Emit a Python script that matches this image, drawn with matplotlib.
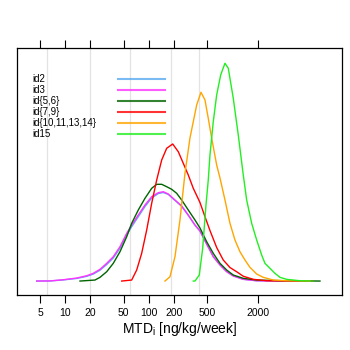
import numpy as np
import matplotlib
matplotlib.use('Agg')
import matplotlib.pyplot as plt

plt.rcParams['font.family'] = ['Liberation Sans', 'DejaVu Sans']
plt.rcParams['mathtext.fontset'] = 'custom'
plt.rcParams['mathtext.rm'] = 'Liberation Sans'

# density curves of MTD (x in ng/kg/week, y = density of log10 values)
x_id2 = [4.57, 6.58, 9.5, 13.73, 18.08, 21.68, 26.07, 31.35, 37.59, 45.2, 54.37,
         62.39, 74.8, 89.95, 108.2, 129.8, 148.9, 170.8, 205.4, 247.0, 296.2,
         356.3, 408.8, 491.5, 589.4, 709, 852.5, 1022, 1346, 1947, 3696, 9244]
y_id2 = [0.0, 0.001, 0.011, 0.026, 0.047, 0.07, 0.108, 0.165, 0.23, 0.328, 0.46,
         0.543, 0.643, 0.745, 0.83, 0.875, 0.885, 0.866, 0.806, 0.747, 0.657,
         0.558, 0.5, 0.37, 0.245, 0.162, 0.095, 0.052, 0.018, 0.003, 0.0, 0.0]
x_id3 = [4.57, 6.58, 9.5, 13.73, 18.08, 21.68, 26.07, 31.35, 37.59, 45.2, 54.37,
         62.39, 74.8, 89.95, 108.2, 129.8, 148.9, 170.8, 205.4, 247.0, 296.2,
         356.3, 408.8, 491.5, 589.4, 709, 852.5, 1022, 1346, 1947, 3696, 9244]
y_id3 = [0.0, 0.001, 0.013, 0.03, 0.053, 0.077, 0.117, 0.177, 0.243, 0.343, 0.477,
         0.56, 0.66, 0.76, 0.843, 0.883, 0.893, 0.87, 0.81, 0.75, 0.66,
         0.56, 0.5, 0.37, 0.243, 0.16, 0.093, 0.05, 0.017, 0.003, 0.0, 0.0]
x_id56 = [15.04, 22.72, 26.07, 31.35, 37.59, 45.2, 54.37, 62.39, 74.8, 89.95,
          108.2, 124.2, 142.5, 163.5, 187.6, 215.2, 247.0, 296.2, 356.3, 408.8,
          491.5, 589.4, 709, 852.5, 1022, 1346, 1947, 4048, 11113]
y_id56 = [0.0, 0.01, 0.037, 0.093, 0.177, 0.293, 0.443, 0.577, 0.71, 0.827,
          0.927, 0.967, 0.967, 0.943, 0.917, 0.877, 0.81, 0.71, 0.61, 0.53,
          0.393, 0.277, 0.177, 0.11, 0.06, 0.027, 0.01, 0.003, 0.0]
x_id79 = [47.4, 62.39, 71.6, 82.15, 94.3, 108.2, 124.2, 142.5, 163.5, 192.9,
          225.0, 258.1, 296.2, 340, 408.8, 469.1, 538.2, 647.3, 776.3, 933.4,
          1122, 1346, 1772, 2563, 9244]
y_id79 = [0.0, 0.01, 0.11, 0.277, 0.51, 0.777, 1.01, 1.21, 1.327, 1.37,
          1.293, 1.177, 1.06, 0.927, 0.785, 0.643, 0.505, 0.335, 0.21, 0.135,
          0.093, 0.048, 0.017, 0.003, 0.0]
x_id1014 = [156.0, 179.0, 205.4, 235.7, 270.5, 310.4, 340, 373.3, 420.2, 469.1,
            513.6, 564.0, 647.3, 709, 813.5, 933.4, 1071, 1229, 1411, 1618,
            1947, 2334, 3074, 4444, 8439]
y_id1014 = [0.0, 0.043, 0.243, 0.61, 1.077, 1.43, 1.593, 1.76, 1.887, 1.81,
            1.627, 1.427, 1.16, 1.03, 0.81, 0.577, 0.41, 0.293, 0.21, 0.137,
            0.07, 0.037, 0.01, 0.003, 0.0]
x_id15 = [340, 356.3, 401.0, 440.3, 482.2, 513.6, 538.2, 589.4, 647.3, 722.8,
          813.5, 890.8, 1022, 1173, 1346, 1478, 1696, 1947, 2233, 2446, 2807,
          3221, 3696, 4444, 6408, 9244]
y_id15 = [0.0, 0.0, 0.06, 0.327, 0.76, 1.01, 1.26, 1.593, 1.86, 2.06,
          2.177, 2.127, 1.827, 1.46, 1.06, 0.81, 0.577, 0.41, 0.26, 0.177, 0.127,
          0.077, 0.037, 0.017, 0.003, 0.0]

labels = ['id2', 'id3', 'id{5,6}', 'id{7,9}', 'id{10,11,13,14}', 'id15']
colors = ['#5AAAF0', '#FF33FF', '#006400', '#FF0000', '#FFA500', '#22EE22']
tick_vals = [5, 10, 20, 50, 100, 200, 500, 2000]
grid_vals = [6, 20, 60, 182, 400]

series = [(x_id2, y_id2), (x_id3, y_id3), (x_id56, y_id56),
          (x_id79, y_id79), (x_id1014, y_id1014), (x_id15, y_id15)]

fig = plt.figure(figsize=(3.5, 3.5), dpi=100)
ax = fig.add_axes([0.0477, 0.157, 0.9294, 0.706])

for g in grid_vals:
    ax.axvline(g, color='#E3E3E3', lw=0.9, zorder=0)

for (xs, ys), c in zip(series, colors):
    ax.plot(xs, ys, color=c, lw=1.0)

ax.set_xscale('log')
ax.set_xlim(2.634, 20370)
ax.set_ylim(-0.14, 2.33)
ax.set_xticks(tick_vals)
ax.set_xticklabels([str(t) for t in tick_vals])
ax.minorticks_off()
ax.tick_params(axis='x', which='major', direction='out', length=6, width=0.8,
               top=True, labeltop=False, labelsize=7.5, pad=3)
ax.set_yticks([])
for s in ax.spines.values():
    s.set_linewidth(0.9)
ax.set_xlabel('MTD$_\\mathrm{i}$ [ng/kg/week]', fontsize=10, labelpad=2)

# key
for i, (lab, c) in enumerate(zip(labels, colors)):
    yy = 0.8745 - i * 0.0448
    ax.text(0.049, yy, lab, transform=ax.transAxes, fontsize=7,
            va='center', ha='left')
    ax.plot([0.3105, 0.456], [yy, yy], transform=ax.transAxes,
            color=c, lw=1.5, alpha=0.8)

fig.savefig('out.png', dpi=100)
